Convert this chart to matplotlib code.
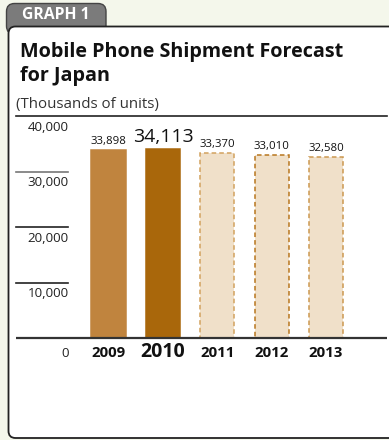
import matplotlib
matplotlib.use("Agg")
import matplotlib.pyplot as plt
from matplotlib.patches import FancyBboxPatch
from matplotlib.transforms import IdentityTransform, blended_transform_factory

plt.rcParams['font.family'] = ['Open Sans', 'DejaVu Sans']

years = ['2009', '2010', '2011', '2012', '2013']
shipments = [33898, 34113, 33370, 33010, 32580]
y_ticks = [0, 10000, 20000, 30000, 40000]
tick_labels = ['0', '10,000', '20,000', '30,000', '40,000']

fill_colors = ['#c0843e', '#a9670b', '#f0e0c9', '#f0e0c9', '#f0e0c9']
edge_colors = ['#c0843e', '#a9670b', '#d2a25e', '#b8761e', '#cc9850']
dashed = [False, False, True, True, True]
highlight = 1  # current year gets the big label

W, H = 389, 440
fig = plt.figure(figsize=(W / 100, H / 100), dpi=100, facecolor='#f4f7eb')


def px_box(x0, y_top, x1, y_bot, **kw):
    # rectangle given in pixels measured from the top-left corner
    return FancyBboxPatch((x0, H - y_bot), x1 - x0, y_bot - y_top,
                          transform=IdentityTransform(), **kw)


def top_text(x, y, s, **kw):
    # text placed in pixels from the top-left corner
    return fig.text(x / W, 1 - y / H, s, **kw)


# "GRAPH 1" tab and the white panel under it
tab = px_box(6.5, 3.5, 106, 34, boxstyle='round,pad=0,rounding_size=8',
             facecolor='#7b7b7b', edgecolor='#444444', linewidth=1.0,
             zorder=-2)
panel = px_box(8.5, 26.5, 420, 438, boxstyle='round,pad=0,rounding_size=7',
               facecolor='white', edgecolor='#222222', linewidth=1.3,
               zorder=-1)
fig.patches.extend([tab, panel])
top_text(22, 15, 'GRAPH 1', color='white', fontsize=11.3,
         fontweight='bold', va='center', ha='left')

title_kw = dict(fontsize=14.2, fontweight='bold', color='#111111',
                va='baseline', ha='left')
top_text(20, 57, 'Mobile Phone Shipment Forecast', **title_kw)
top_text(20, 81, 'for Japan', **title_kw)
top_text(16, 108, '(Thousands of units)', fontsize=10.8, color='#333333',
         va='baseline', ha='left')

# plotting area: x from 16px to 387px, y from 338px (0) to 116px (40,000)
ax = fig.add_axes([16 / W, (H - 338) / H, 371 / W, 222 / H])
ax.set_xlim(-1.70, 5.12)
ax.set_ylim(0, 40000)
ax.axis('off')

xs = list(range(len(years)))
for i, (x, v) in enumerate(zip(xs, shipments)):
    ax.bar(x, v, width=0.63, color=fill_colors[i], edgecolor=edge_colors[i],
           linewidth=1.1, linestyle=(0, (3, 2)) if dashed[i] else '-',
           zorder=2)
    big = i == highlight
    ax.annotate(f'{v:,}', (x, v), xytext=(0, 3), textcoords='offset pixels',
                ha='center', va='bottom', fontsize=14 if big else 8.2,
                color='#111111')
    ax.annotate(years[i], (x, 0), xytext=(0, -19), textcoords='offset pixels',
                ha='center', va='baseline', fontsize=14 if big else 10.8,
                fontweight='bold', color='#111111', annotation_clip=False)

# short reference lines on the left, full lines at 0 and 40,000
trans = blended_transform_factory(ax.transAxes, ax.transData)
left_end = (68 - 16) / 371
for t, lab in zip(y_ticks, tick_labels):
    if t == 0:
        ax.plot([0, 1], [0, 0], transform=trans, color='#333333', lw=1.6,
                solid_capstyle='butt', clip_on=False, zorder=3)
    elif t == 40000:
        ax.plot([0, 1], [t, t], transform=trans, color='#222222',
                lw=1.2, clip_on=False)
    else:
        ax.plot([0, left_end], [t, t], transform=trans,
                color='#777777' if t == 30000 else '#222222', lw=1.2,
                clip_on=False)
    ax.annotate(lab, (left_end, t), xycoords=trans, xytext=(1, -11 if t else -15),
                textcoords='offset pixels', ha='right', va='center',
                fontsize=9.6, color='#222222', annotation_clip=False)

fig.savefig('out.png', dpi=100, facecolor=fig.get_facecolor())
